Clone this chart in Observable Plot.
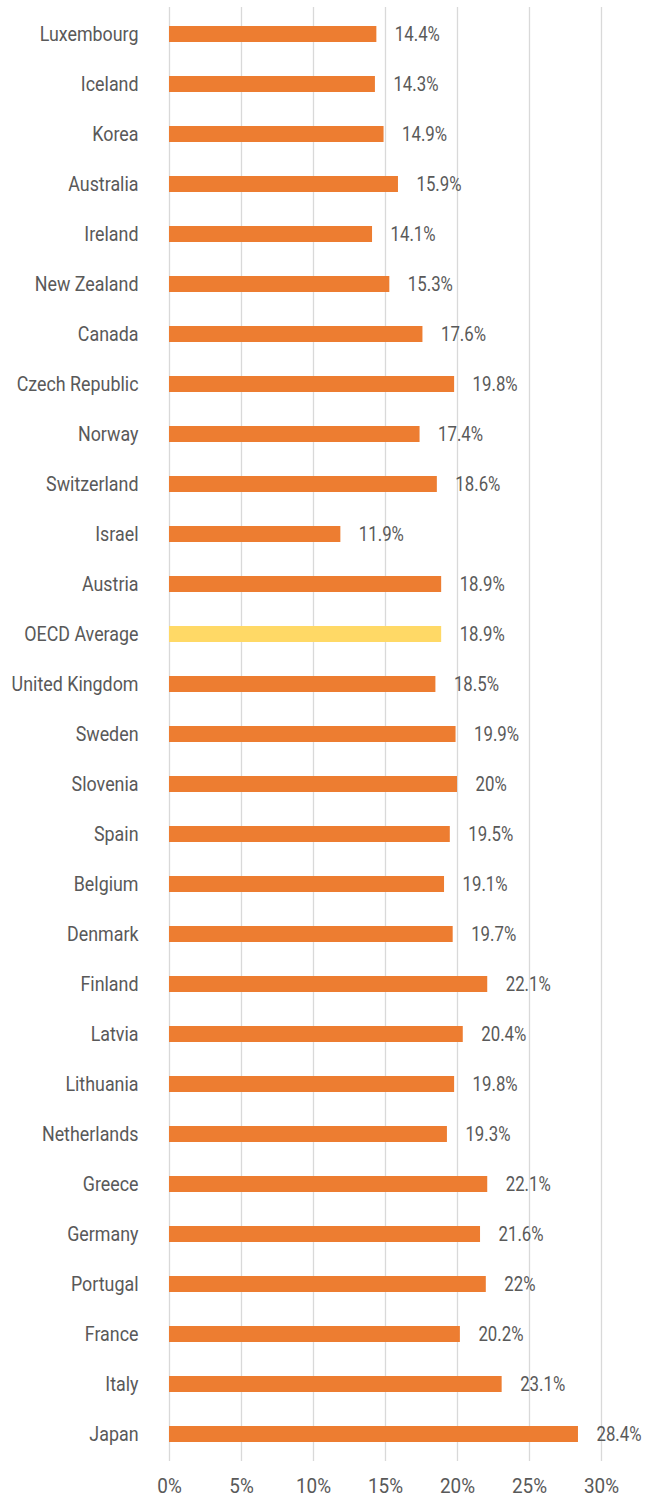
<!DOCTYPE html>
<html>
<head>
<meta charset="utf-8">
<script src="https://cdn.jsdelivr.net/npm/d3@7"></script>
<script src="https://cdn.jsdelivr.net/npm/@observablehq/plot@0.6"></script>
<style>
  html, body { margin: 0; padding: 0; background: #ffffff; }
  #chart svg { display: block; }
</style>
</head>
<body>
<div id="chart"></div>
<script>
const countries = [
  "Luxembourg", "Iceland", "Korea", "Australia", "Ireland", "New Zealand",
  "Canada", "Czech Republic", "Norway", "Switzerland", "Israel", "Austria",
  "OECD Average", "United Kingdom", "Sweden", "Slovenia", "Spain", "Belgium",
  "Denmark", "Finland", "Latvia", "Lithuania", "Netherlands", "Greece",
  "Germany", "Portugal", "France", "Italy", "Japan"
];
const values = [
  14.4, 14.3, 14.9, 15.9, 14.1, 15.3,
  17.6, 19.8, 17.4, 18.6, 11.9, 18.9,
  18.9, 18.5, 19.9, 20, 19.5, 19.1,
  19.7, 22.1, 20.4, 19.8, 19.3, 22.1,
  21.6, 22, 20.2, 23.1, 28.4
];
const xTicks = [0, 5, 10, 15, 20, 25, 30];
const highlighted = "OECD Average";

const data = countries.map((c, i) => ({country: c, value: values[i]}));

const chart = Plot.plot({
  width: 647,
  height: 1498,
  marginLeft: 169,
  marginRight: 46,
  marginTop: 7,
  marginBottom: 37,
  style: {
    fontFamily: "'Roboto', sans-serif",
    fontSize: "21px",
    color: "#595959",
    background: "#ffffff"
  },
  x: {domain: [0, 30], label: null},
  y: {domain: countries, paddingInner: 0.68, paddingOuter: 0.34, label: null},
  marks: [
    Plot.gridX(xTicks, {stroke: "#d9d9d9", strokeOpacity: 1, strokeWidth: 1.3}),
    Plot.axisX(xTicks, {tickSize: 0, tickPadding: 17, tickFormat: d => d + "%", label: null, fill: "#595959"}),
    Plot.axisY({tickSize: 0, tickPadding: 31, label: null, fill: "#595959"}),
    Plot.barX(data.filter(d => d.country !== highlighted), {x: "value", y: "country", fill: "#ED7D31"}),
    Plot.barX(data.filter(d => d.country === highlighted), {x: "value", y: "country", fill: "#FFD966"}),
    Plot.text(data, {x: "value", y: "country", text: d => d.value + "%", textAnchor: "start", dx: 18, fill: "#595959", fontSize: 21})
  ]
});
document.getElementById("chart").appendChild(chart);

// Condense text horizontally to mimic the narrow typeface of the original
function condense(selector, factor) {
  chart.querySelectorAll(selector).forEach(t => {
    const len = t.getComputedTextLength();
    t.setAttribute("textLength", (len * factor).toFixed(2));
    t.setAttribute("lengthAdjust", "spacingAndGlyphs");
  });
}
condense('g[aria-label="y-axis tick label"] text', 0.85);
condense('g[aria-label="x-axis tick label"] text', 0.9);
condense('g[aria-label="text"] text', 0.8);
</script>
</body>
</html>
